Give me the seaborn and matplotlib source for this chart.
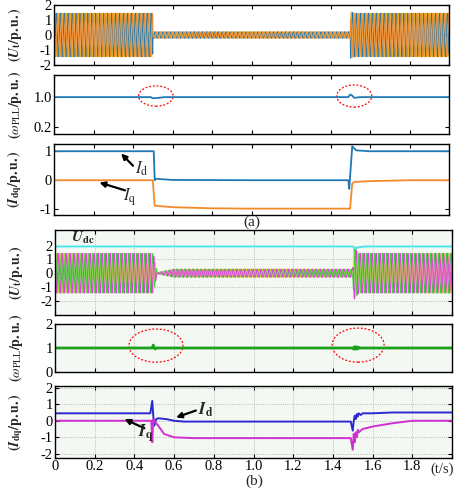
import numpy as np
import pandas as pd
import seaborn as sns
import matplotlib.pyplot as plt
from matplotlib.patches import Ellipse

# ---- data ----
f_grid = 50.0  # Hz
# (a) terminal voltage envelope
ua_env_t = [0.0, 0.5, 0.501, 1.5, 1.501, 1.52, 2.0]
ua_env_v = [1.45, 1.45, 0.22, 0.22, 1.55, 1.45, 1.45]
# (a) PLL frequency
pll_a_t = [0.0, 0.49, 0.50, 0.52, 0.56, 1.49, 1.50, 1.51, 1.52, 1.55, 2.0]
pll_a_v = [1.0, 1.0, 0.97, 0.975, 1.0, 1.0, 1.07, 1.04, 0.98, 1.0, 1.0]
# (a) dq currents
id_a_t = [0.0, 0.505, 0.51, 0.515, 0.6, 1.0, 1.49, 1.495, 1.50, 1.51, 1.53, 1.6, 2.0]
id_a_v = [1.0, 1.0, 0.0, 0.05, 0.01, 0.0, 0.0, -0.3, 0.2, 1.17, 1.03, 1.0, 1.0]
iq_a_t = [0.0, 0.50, 0.51, 0.6, 0.8, 1.0, 1.499, 1.51, 1.52, 1.6, 1.8, 2.0]
iq_a_v = [0.0, 0.0, -0.88, -0.93, -0.97, -0.98, -0.98, -0.12, -0.06, -0.03, 0.0, 0.0]

# (b) terminal voltage envelope and dc voltage
ub_env_t = [0.0, 0.495, 0.515, 0.6, 1.5, 1.505, 1.53, 2.0]
ub_env_v = [1.45, 1.45, 0.05, 0.3, 0.3, 1.95, 1.45, 1.45]
udc_t = [0.0, 1.50, 1.51, 1.53, 1.56, 2.0]
udc_v = [1.95, 1.95, 1.8, 1.88, 1.95, 1.95]
# (b) PLL frequency
pll_b_t = [0.0, 0.49, 0.495, 0.50, 0.505, 0.51, 1.50, 1.505, 1.51, 1.515, 1.52, 1.525, 1.53, 1.535, 2.0]
pll_b_v = [1.0, 1.0, 1.12, 1.0, 0.96, 1.0, 1.0, 0.95, 1.06, 0.95, 1.05, 0.96, 1.03, 1.0, 1.0]
# (b) dq currents
id_b_t = [0.0, 0.48, 0.49, 0.495, 0.50, 0.51, 0.52, 0.56, 0.6, 0.65, 1.49, 1.50, 1.505,
          1.51, 1.515, 1.52, 1.525, 1.53, 1.54, 1.55, 1.6, 1.7, 2.0]
id_b_v = [0.45, 0.45, 1.2, 0.3, -0.3, 0.1, 0.15, 0.1, 0.0, -0.05, -0.05, -0.6, 0.0,
          0.3, 0.1, 0.4, 0.25, 0.45, 0.35, 0.45, 0.45, 0.5, 0.5]
iq_b_t = [0.0, 0.485, 0.49, 0.495, 0.50, 0.52, 0.55, 0.6, 0.7, 1.49, 1.50, 1.505, 1.51,
          1.515, 1.52, 1.525, 1.53, 1.55, 1.6, 1.7, 1.8, 2.0]
iq_b_v = [0.0, 0.0, -1.3, 0.1, 0.0, -0.3, -0.8, -1.0, -1.05, -1.05, -1.75, -0.8, -1.3,
          -0.7, -1.0, -0.55, -0.7, -0.5, -0.35, -0.15, 0.0, 0.0]

xticks = [0, 0.2, 0.4, 0.6, 0.8, 1.0, 1.2, 1.4, 1.6, 1.8, 2.0]
xlabels = ['0', '0.2', '0.4', '0.6', '0.8', '1.0', '1.2', '1.4', '1.6', '1.8']

# ---- style ----
sns.set_theme(style='ticks')
plt.rcParams['font.family'] = ['Liberation Serif', 'DejaVu Serif']
plt.rcParams['mathtext.fontset'] = 'stix'
plt.rcParams['axes.unicode_minus'] = False
plt.rcParams['font.size'] = 10

t = np.linspace(0, 2, 8001)
phases = [0, -2 * np.pi / 3, 2 * np.pi / 3]
env_a = np.interp(t, ua_env_t, ua_env_v)
env_b = np.interp(t, ub_env_t, ub_env_v)

W, H = 463, 492
fig = plt.figure(figsize=(W / 100, H / 100), dpi=100)


def make_ax(x0, x1, y0, y1):
    return fig.add_axes([x0 / W, 1 - y1 / H, (x1 - x0) / W, (y1 - y0) / H])


def style(ax, ylim, yticks, ylabels, label, grid=False):
    ax.set_xlim(0, 2)
    ax.set_ylim(*ylim)
    ax.set_xticks(xticks)
    ax.set_yticks(yticks)
    ax.set_yticklabels(ylabels, fontsize=10.5)
    ax.tick_params(direction='in', top=True, right=True, length=3, width=0.8, pad=1.5,
                   colors='black')
    for s in ax.spines.values():
        s.set_color('black')
        s.set_linewidth(1.0)
        s.set_visible(True)
    ax.set_ylabel(label, fontsize=10)
    ax.yaxis.set_label_coords(-0.075, 0.5)
    if grid:
        ax.set_facecolor('#f3f8f3')
        ax.grid(True, ls=':', lw=0.6, color='#aaaaaa')
    else:
        ax.grid(False)
    ax.set_xlabel('')


lab_u = r'$\mathbf{(}\mathbfit{U}_{\mathbf{t}}\mathbf{/p.u.)}$'
lab_w = r'$\mathbf{(}\mathit{\omega}_{\mathrm{PLL}}\mathbf{/p.u.)}$'
lab_i = r'$\mathbf{(}\mathbfit{I}_{\mathbf{dq}}\mathbf{/p.u.)}$'
ell = dict(fill=False, ec='red', ls=(0, (1.5, 1.5)), lw=0.9)

# ---- (a) ----
ax1 = make_ax(54, 449, 5, 65)
for ph, c in zip(phases, ['#edb120', '#1f77b4', '#f28a2a']):
    sns.lineplot(x=t, y=env_a * np.sin(2 * np.pi * f_grid * t + ph), ax=ax1, color=c,
                 lw=0.7, estimator=None, sort=False)
style(ax1, (-2, 2), [-2, -1, 0, 1, 2], ['-2', '-1', '0', '1', '2'], lab_u)
ax1.set_xticklabels([])

ax2 = make_ax(54, 449, 75, 134)
sns.lineplot(x=pll_a_t, y=pll_a_v, ax=ax2, color='#1f77b4', lw=1.3, estimator=None, sort=False)
style(ax2, (0.0, 1.6), [0.2, 1.0], ['0.2', '1.0'], lab_w)
ax2.set_xticklabels([])
ax2.add_patch(Ellipse((0.516, 1.03), 0.175, 0.55, **ell))
ax2.add_patch(Ellipse((1.52, 1.03), 0.177, 0.6, **ell))

ax3 = make_ax(54, 449, 144, 215)
sns.lineplot(x=id_a_t, y=id_a_v, ax=ax3, color='#1f77b4', lw=1.3, estimator=None, sort=False)
sns.lineplot(x=iq_a_t, y=iq_a_v, ax=ax3, color='#f28a2a', lw=1.3, estimator=None, sort=False)
style(ax3, (-1.2, 1.25), [-1, 0, 1], ['-1', '0', '1'], lab_i)
ax3.set_xticklabels([])
arr = dict(arrowstyle='-|>', color='black', lw=1.6, mutation_scale=8, shrinkA=0, shrinkB=0)
ax3.annotate('', xy=(0.34, 0.92), xytext=(0.40, 0.5), arrowprops=arr)
ax3.text(0.41, 0.4, r'$\mathit{I}_{\mathrm{d}}$', fontsize=12, va='center')
ax3.annotate('', xy=(0.23, -0.08), xytext=(0.36, -0.35), arrowprops=arr)
ax3.text(0.35, -0.6, r'$\mathit{I}_{\mathrm{q}}$', fontsize=12, va='center')

fig.text(252 / W, 1 - 222 / H, '(a)', ha='center', va='center', fontsize=11)

# ---- (b) ----
ax4 = make_ax(55, 452, 230, 315)
for ph, c in zip(phases, ['#e8e020', '#40d040', '#e040e0']):
    sns.lineplot(x=t, y=env_b * np.sin(2 * np.pi * f_grid * t + ph), ax=ax4, color=c,
                 lw=0.7, estimator=None, sort=False)
sns.lineplot(x=udc_t, y=udc_v, ax=ax4, color='#40e8f0', lw=1.3, estimator=None, sort=False)
style(ax4, (-3.05, 3.15), [-2, -1, 0, 1, 2], ['-2', '-1', '0', '1', '2'], lab_u, grid=True)
ax4.set_xticklabels([])
ax4.text(0.08, 2.55, r'$\mathbfit{U}_{\mathbf{dc}}$', fontsize=11, va='center')

ax5 = make_ax(55, 452, 324, 372)
sns.lineplot(x=pll_b_t, y=pll_b_v, ax=ax5, color='#1aa01a', lw=2.0, estimator=None, sort=False)
style(ax5, (0, 2), [0, 1, 2], ['0', '1', '2'], lab_w, grid=True)
ax5.set_xticklabels([])
ax5.add_patch(Ellipse((0.509, 1.1), 0.272, 1.38, **ell))
ax5.add_patch(Ellipse((1.527, 1.12), 0.262, 1.42, **ell))

ax6 = make_ax(55, 452, 386, 458)
sns.lineplot(x=id_b_t, y=id_b_v, ax=ax6, color='#2a2ad0', lw=1.4, estimator=None, sort=False)
sns.lineplot(x=iq_b_t, y=iq_b_v, ax=ax6, color='#d030d0', lw=1.4, estimator=None, sort=False)
style(ax6, (-2.25, 2.1), [-2, -1, 0, 1, 2], ['-2', '-1', '0', '1', '2'], lab_i, grid=True)
ax6.set_xticklabels(xlabels + [''], fontsize=10.5)
ax6.text(1.95, -2.55, '(t/s)', ha='center', va='top', fontsize=10.5)
ax6.annotate('', xy=(0.61, 0.2), xytext=(0.71, 0.62), arrowprops=arr)
ax6.text(0.72, 0.65, r'$\mathbfit{I}_{\mathbf{d}}$', fontsize=12, va='center')
ax6.annotate('', xy=(0.35, 0.1), xytext=(0.45, -0.45), arrowprops=arr)
ax6.text(0.42, -0.8, r'$\mathbfit{I}_{\mathbf{q}}$', fontsize=12, va='center')

fig.text(254 / W, 1 - 481 / H, '(b)', ha='center', va='center', fontsize=11)

fig.savefig('out.png', dpi=100)
